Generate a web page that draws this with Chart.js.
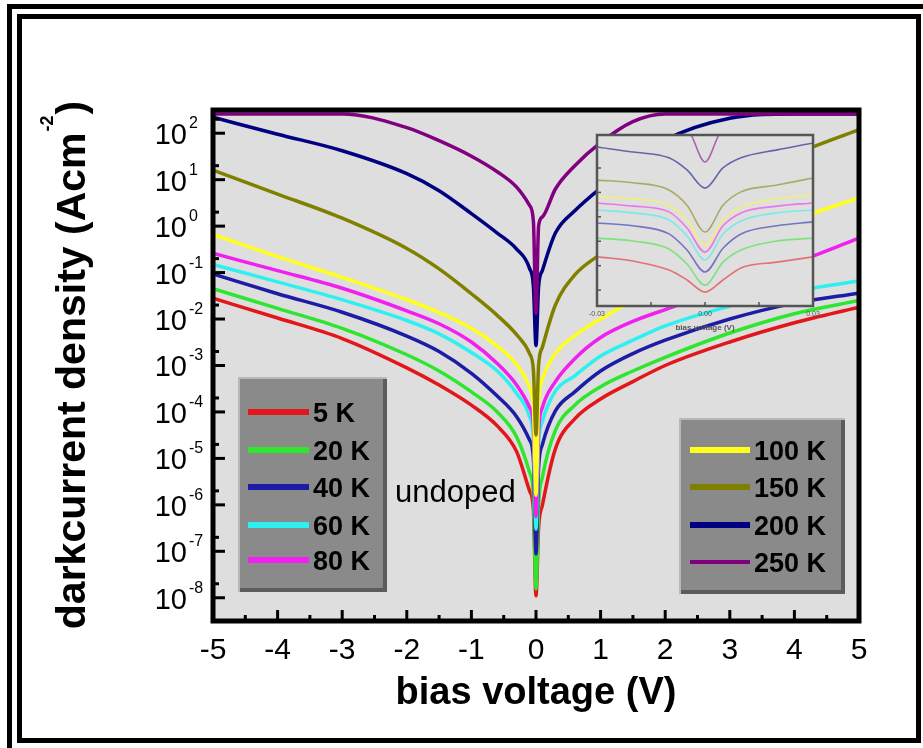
<!DOCTYPE html>
<html lang="en">
<head>
<meta charset="UTF-8">
<title>Dark current density vs bias voltage</title>
<script src="https://cdn.jsdelivr.net/npm/chart.js"></script>
<style>
  body { margin: 0; background: #fff; }
  #wrap { position: relative; width: 923px; height: 748px; }
  #main { position: absolute; left: 0; top: 0; }
  #inset { position: absolute; left: 580px; top: 125px; }
</style>
</head>
<body>
<div id="wrap">
  <canvas id="main" width="923" height="748"></canvas>
  <canvas id="inset" width="250" height="215"></canvas>
</div>
<script>
// bias voltage sample points (V)
const voltage = [-5, -4, -3, -2, -1.5, -1, -0.6, -0.3, -0.1, -0.04, 0, 0.04, 0.1, 0.3, 0.6, 1, 1.5, 2, 3, 4, 5];

// dark current density (A/cm^2), one array per temperature
const j5K   = [2.8e-2, 1.05e-2, 3.8e-3, 8.9e-4, 3.8e-4, 1.4e-4, 5.0e-5, 1.4e-5, 2.0e-6, 7.9e-7, 1.1e-8, 3.2e-7, 1.0e-6, 1.6e-5, 7.1e-5, 1.9e-4, 4.5e-4, 1.0e-3, 3.2e-3, 8.3e-3, 1.8e-2];
const j20K  = [4.5e-2, 1.7e-2, 6.3e-3, 1.7e-3, 7.6e-4, 2.7e-4, 1.0e-4, 2.9e-5, 5.0e-6, 1.6e-6, 1.55e-8, 1.0e-6, 4.0e-6, 4.0e-5, 1.4e-4, 3.5e-4, 7.6e-4, 1.5e-3, 5.0e-3, 1.3e-2, 2.5e-2];
const j40K  = [9.3e-2, 3.5e-2, 1.4e-2, 4.3e-3, 2.0e-3, 6.8e-4, 2.2e-4, 7.9e-5, 2.5e-5, 1.0e-5, 8.7e-8, 6.3e-6, 2.0e-5, 1.05e-4, 2.7e-4, 7.6e-4, 1.8e-3, 3.5e-3, 1.0e-2, 2.2e-2, 3.6e-2];
const j60K  = [0.15, 6.3e-2, 2.6e-2, 9.3e-3, 4.8e-3, 1.9e-3, 7.6e-4, 2.5e-4, 7.9e-5, 2.5e-5, 3.0e-7, 2.0e-5, 6.3e-5, 2.8e-4, 6.0e-4, 1.6e-3, 3.5e-3, 7.1e-3, 1.9e-2, 4.0e-2, 6.6e-2];
const j80K  = [0.26, 0.11, 4.6e-2, 1.5e-2, 7.9e-3, 3.2e-3, 1.1e-3, 3.8e-4, 1.26e-4, 5.0e-5, 5.6e-7, 4.0e-5, 1.26e-4, 4.5e-4, 1.4e-3, 4.0e-3, 8.9e-3, 1.6e-2, 5.0e-2, 0.16, 0.55];
const j100K = [0.66, 0.22, 7.9e-2, 2.6e-2, 1.38e-2, 6.3e-3, 2.6e-3, 1.05e-3, 3.4e-4, 1.26e-4, 1.6e-6, 1.6e-4, 5.0e-4, 1.8e-3, 4.4e-3, 1.0e-2, 2.5e-2, 5.6e-2, 0.28, 1.32, 4.1];
const j150K = [16, 4.9, 1.48, 0.33, 0.12, 3.5e-2, 1.2e-2, 4.6e-3, 1.8e-3, 7.9e-4, 3.2e-5, 1.0e-3, 2.5e-3, 2.0e-2, 8.9e-2, 0.25, 0.79, 1.78, 7.9, 35, 120];
const j200K = [220, 95, 42, 13.5, 5.8, 1.86, 0.71, 0.32, 0.123, 5.0e-2, 2.7e-3, 5.0e-2, 0.112, 0.71, 2.14, 6.6, 22, 71, 210, 260, 260];
const j250K = [260, 260, 260, 132, 69, 32, 14.8, 6.9, 2.8, 1.26, 1.3e-2, 1.0, 1.58, 6.3, 20, 63, 178, 260, 260, 260, 260];

const temps  = ['5 K', '20 K', '40 K', '60 K', '80 K', '100 K', '150 K', '200 K', '250 K'];
const colors = ['#e3161b', '#2ee62e', '#1c1ca6', '#2ef0f0', '#f020f0', '#ffff1e', '#808000', '#000080', '#800080'];
const series = [j5K, j20K, j40K, j60K, j80K, j100K, j150K, j200K, j250K];

// axis ticks
const xTicks = [-5, -4, -3, -2, -1, 0, 1, 2, 3, 4, 5];
const xMinorTicks = [-4.5, -3.5, -2.5, -1.5, -0.5, 0.5, 1.5, 2.5, 3.5, 4.5];
const yTicks = [1e2, 1e1, 1e0, 1e-1, 1e-2, 1e-3, 1e-4, 1e-5, 1e-6, 1e-7, 1e-8];
const yTickExp = ['2', '1', '0', '-1', '-2', '-3', '-4', '-5', '-6', '-7', '-8'];
const yMinorTicks = [2e2, 2e1, 2e0, 2e-1, 2e-2, 2e-3, 2e-4, 2e-5, 2e-6, 2e-7, 2e-8];

// inset: close-up around zero bias
const insetVoltage = [-0.03, -0.02, -0.01, -0.005, 0, 0.005, 0.01, 0.02, 0.03];
const inset5K   = [2.3e-4, 1.55e-4, 6.6e-5, 2.6e-5, 8.3e-6, 2.6e-5, 8.1e-5, 1.4e-4, 2.3e-4];
const inset20K  = [1.35e-3, 1.02e-3, 4.8e-4, 1.17e-4, 1.6e-5, 1.4e-4, 4.4e-4, 1.02e-3, 1.35e-3];
const inset40K  = [5.6e-3, 4.3e-3, 2.0e-3, 4.4e-4, 5.5e-5, 5.2e-4, 2.0e-3, 4.3e-3, 6.2e-3];
const inset60K  = [1.9e-2, 1.45e-2, 7.4e-3, 1.66e-3, 1.7e-4, 2.0e-3, 6.8e-3, 1.45e-2, 1.9e-2];
const inset80K  = [3.7e-2, 2.75e-2, 1.6e-2, 3.5e-3, 3.6e-4, 4.3e-3, 1.45e-2, 2.75e-2, 3.7e-2];
const inset100K = [6.5e-2, 5.4e-2, 3.0e-2, 7.4e-3, 7.1e-4, 7.4e-3, 2.5e-2, 5.4e-2, 7.8e-2];
const inset150K = [0.32, 0.25, 0.126, 3.0e-2, 2.4e-3, 3.0e-2, 0.105, 0.2, 0.39];
const inset200K = [7.2, 4.5, 2.6, 0.83, 0.15, 1.0, 2.6, 5.5, 10.5];
const inset250K = [40, 40, 40, 37, 1.76, 37, 40, 40, 40];
const insetSeries = [inset5K, inset20K, inset40K, inset60K, inset80K, inset100K, inset150K, inset200K, inset250K];
const insetXTicks = [-0.03, 0, 0.03];
const insetXLabels = ['-0.03', '0.00', '0.03'];
const insetXMinor = [-0.015, 0.015];
const insetYTicks = [1e0, 1e-1, 1e-2, 1e-3, 1e-4, 1e-5];

const FONT = '"Liberation Sans", Arial, Helvetica, sans-serif';

function line(ctx, x1, y1, x2, y2) {
  ctx.beginPath();
  ctx.moveTo(x1, y1);
  ctx.lineTo(x2, y2);
  ctx.stroke();
}

function legendBox(ctx, x0, y0, w, h) {
  ctx.fillStyle = '#b8b8b8';
  ctx.fillRect(x0, y0, w, h);
  ctx.fillStyle = '#5c5c5c';
  ctx.fillRect(x0 + 2, y0 + 2, w - 2, h - 2);
  ctx.fillStyle = '#8a8a8a';
  ctx.fillRect(x0 + 2, y0 + 2, w - 6, h - 6);
}

function legendItem(ctx, ds, x1, x2, yRow, width) {
  ctx.strokeStyle = ds.borderColor;
  ctx.lineWidth = width;
  line(ctx, x1, yRow, x2, yRow);
  ctx.fillStyle = '#000';
  ctx.font = 'bold 27px ' + FONT;
  ctx.textAlign = 'left';
  ctx.textBaseline = 'alphabetic';
  ctx.fillText(ds.label, x2 + 4, yRow + 10);
}

const framePlugin = {
  id: 'frame',
  beforeDraw(chart) {
    const {ctx, chartArea: a} = chart;
    ctx.save();
    ctx.fillStyle = '#fff';
    ctx.fillRect(0, 0, chart.width, chart.height);
    ctx.fillStyle = '#000';
    // outer border
    ctx.fillRect(7, 4, chart.width, 5);
    ctx.fillRect(7, 4, 5, chart.height);
    // inner border
    ctx.fillRect(17, 14, 904, 5);
    ctx.fillRect(17, 14, 5, 729);
    ctx.fillRect(17, 738, 904, 5);
    ctx.fillRect(916, 14, 5, 729);
    // plot background
    ctx.fillStyle = '#dedede';
    ctx.fillRect(a.left, a.top, a.width, a.height);
    ctx.restore();
  },
  afterDatasetsDraw(chart) {
    const {ctx, chartArea: a} = chart;
    const xs = chart.scales.x, ys = chart.scales.y;
    ctx.save();

    // axis box
    ctx.strokeStyle = '#000';
    ctx.lineWidth = 5;
    ctx.strokeRect(a.left, a.top, a.width, a.height);

    // inward tick marks
    ctx.lineWidth = 3;
    xTicks.forEach(v => { const px = xs.getPixelForValue(v); line(ctx, px, a.bottom, px, a.bottom - 11); });
    xMinorTicks.forEach(v => { const px = xs.getPixelForValue(v); line(ctx, px, a.bottom, px, a.bottom - 6); });
    yTicks.forEach(v => { const py = ys.getPixelForValue(v); line(ctx, a.left, py, a.left + 12, py); });
    yMinorTicks.forEach(v => { const py = ys.getPixelForValue(v); line(ctx, a.left, py, a.left + 6, py); });

    // tick labels
    ctx.fillStyle = '#000';
    ctx.textBaseline = 'alphabetic';
    ctx.font = '30px ' + FONT;
    ctx.textAlign = 'center';
    xTicks.forEach(v => ctx.fillText(String(v), xs.getPixelForValue(v), 659));
    yTicks.forEach((v, i) => {
      const py = ys.getPixelForValue(v);
      ctx.font = '29px ' + FONT;
      ctx.textAlign = 'right';
      ctx.fillText('10', 187, py + 11);
      ctx.font = '16px ' + FONT;
      ctx.textAlign = 'left';
      ctx.fillText(yTickExp[i], 189, py - 5);
    });

    // axis titles
    ctx.font = 'bold 38px ' + FONT;
    ctx.textAlign = 'center';
    ctx.fillText('bias voltage (V)', (a.left + a.right) / 2, 704);

    ctx.save();
    ctx.translate(85, 366);
    ctx.rotate(-Math.PI / 2);
    const tMain = 'darkcurrent density (Acm', tSup = '-2', tEnd = ')';
    ctx.font = 'bold 41px ' + FONT;
    const w1 = ctx.measureText(tMain).width, w3 = ctx.measureText(tEnd).width;
    ctx.font = 'bold 18px ' + FONT;
    const w2 = ctx.measureText(tSup).width;
    const sx = -(w1 + w2 + w3) / 2;
    ctx.textAlign = 'left';
    ctx.font = 'bold 41px ' + FONT;
    ctx.fillText(tMain, sx, 0);
    ctx.font = 'bold 18px ' + FONT;
    ctx.fillText(tSup, sx + w1 + 1, -32);
    ctx.font = 'bold 41px ' + FONT;
    ctx.fillText(tEnd, sx + w1 + w2 + 2, 0);
    ctx.restore();

    // legends
    const ds = chart.data.datasets;
    legendBox(ctx, 238, 377, 149, 215);
    [412, 450, 487, 525, 560].forEach((yr, i) => legendItem(ctx, ds[i], 248, 309, yr, 6));
    legendBox(ctx, 679, 418, 166, 176);
    [450, 487, 525, 562].forEach((yr, i) => legendItem(ctx, ds[i + 5], 690, 750, yr, i === 3 ? 4 : 6));

    // sample label
    ctx.fillStyle = '#000';
    ctx.font = '31px ' + FONT;
    ctx.textAlign = 'left';
    ctx.fillText('undoped', 395, 502);

    ctx.restore();
  }
};

new Chart(document.getElementById('main'), {
  type: 'line',
  data: {
    datasets: series.map((s, i) => ({
      label: temps[i],
      data: voltage.map((v, k) => ({x: v, y: s[k]})),
      borderColor: colors[i],
      borderWidth: 3.5,
      pointRadius: 0,
      cubicInterpolationMode: 'monotone',
      order: series.length - 1 - i
    }))
  },
  options: {
    responsive: false,
    animation: false,
    layout: {padding: {left: 213, top: 110, right: 64, bottom: 127}},
    scales: {
      x: {type: 'linear', min: -5, max: 5, display: false},
      y: {type: 'logarithmic', min: 3.16e-9, max: 316, display: false}
    },
    plugins: {legend: {display: false}, tooltip: {enabled: false}}
  },
  plugins: [framePlugin]
});

const insetPlugin = {
  id: 'insetFrame',
  beforeDraw(chart) {
    const {ctx, chartArea: a} = chart;
    ctx.save();
    ctx.fillStyle = '#dfdfdf';
    ctx.fillRect(a.left, a.top, a.width, a.height);
    ctx.restore();
  },
  afterDatasetsDraw(chart) {
    const {ctx, chartArea: a} = chart;
    const xs = chart.scales.x, ys = chart.scales.y;
    ctx.save();
    ctx.strokeStyle = '#555';
    ctx.lineWidth = 2.5;
    ctx.strokeRect(a.left, a.top, a.width, a.height);
    ctx.lineWidth = 1.5;
    insetYTicks.forEach(v => { const py = ys.getPixelForValue(v); line(ctx, a.left, py, a.left + 4, py); });
    insetXTicks.concat(insetXMinor).forEach(v => { const px = xs.getPixelForValue(v); line(ctx, px, a.bottom, px, a.bottom - 4); });
    ctx.fillStyle = '#555';
    ctx.font = '7px ' + FONT;
    ctx.textAlign = 'center';
    insetXTicks.forEach((v, i) => ctx.fillText(insetXLabels[i], xs.getPixelForValue(v), a.bottom + 10));
    ctx.font = 'bold 8px ' + FONT;
    ctx.fillText('bias voltage (V)', (a.left + a.right) / 2, a.bottom + 24);
    ctx.restore();
  }
};

new Chart(document.getElementById('inset'), {
  type: 'line',
  data: {
    datasets: insetSeries.map((s, i) => ({
      label: temps[i],
      data: insetVoltage.map((v, k) => ({x: v, y: s[k]})),
      borderColor: colors[i] + '8c',
      borderWidth: 1.6,
      pointRadius: 0,
      cubicInterpolationMode: 'monotone',
      order: insetSeries.length - 1 - i
    }))
  },
  options: {
    responsive: false,
    animation: false,
    layout: {padding: {left: 17, top: 10, right: 17, bottom: 34}},
    scales: {
      x: {type: 'linear', min: -0.03, max: 0.03, display: false},
      y: {type: 'logarithmic', min: 2.24e-6, max: 22.4, display: false}
    },
    plugins: {legend: {display: false}, tooltip: {enabled: false}}
  },
  plugins: [insetPlugin]
});
</script>
</body>
</html>
